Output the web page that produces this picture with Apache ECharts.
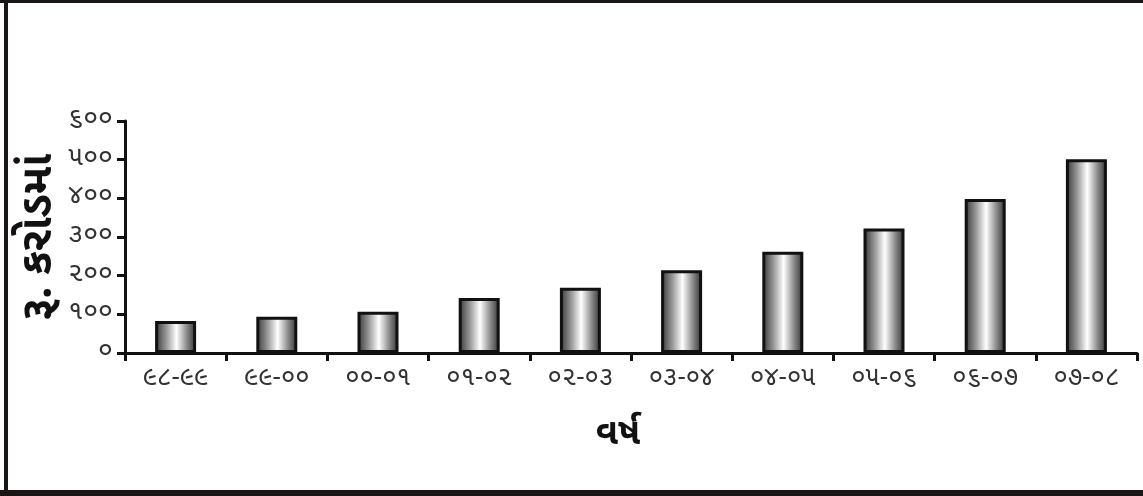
<!DOCTYPE html>
<html><head><meta charset="utf-8">
<script src="https://cdn.jsdelivr.net/npm/echarts@6/dist/echarts.min.js"></script>
<style>html,body{margin:0;padding:0;background:#fff}#c{width:1143px;height:496px}</style>
</head><body><div id="c"></div>
<script>
const categories = ['૯૮-૯૯','૯૯-૦૦','૦૦-૦૧','૦૧-૦૨','૦૨-૦૩','૦૩-૦૪','૦૪-૦૫','૦૫-૦૬','૦૬-૦૭','૦૭-૦૮'];
const values = [83, 94, 107, 142, 169, 214, 262, 322, 398, 501];
const yTickLabels = ['૦','૧૦૦','૨૦૦','૩૦૦','૪૦૦','૫૦૦','૬૦૦'];
const yTitle = 'રૂ. કરોડમાં';
const xTitle = 'વર્ષ';

const font = "'Noto Sans Gujarati','Lohit Gujarati','Noto Sans','DejaVu Sans',sans-serif";
const chart = echarts.init(document.getElementById('c'), null, {renderer:'canvas'});
chart.setOption({
  backgroundColor:'#fff',
  animation:false,
  grid:{left:125, right:6, top:121, bottom:143, containLabel:false},
  xAxis:{
    type:'category', data:categories,
    axisLine:{lineStyle:{color:'#111', width:3}},
    axisTick:{show:true, alignWithLabel:false, length:8, lineStyle:{color:'#111', width:3}},
    axisLabel:{color:'#333', fontSize:26, fontFamily:font, margin:14},
    name:xTitle, nameLocation:'middle', nameGap:66, nameMoveOverlap:false,
    nameTextStyle:{color:'#111', fontSize:36, fontWeight:'bold', fontFamily:font, padding:[0,26,0,0]}
  },
  yAxis:{
    type:'value', min:0, max:600, interval:100,
    axisLine:{show:true, lineStyle:{color:'#111', width:3}},
    axisTick:{show:true, length:8, lineStyle:{color:'#111', width:3}},
    splitLine:{show:false},
    axisLabel:{color:'#333', fontSize:27, fontFamily:font, margin:12,
      formatter:function(v){return yTickLabels[Math.round(v/100)];}},
    name:yTitle, nameLocation:'middle', nameGap:60, nameRotate:90, nameMoveOverlap:false,
    nameTextStyle:{color:'#111', fontSize:44, fontWeight:'bold', fontFamily:font}
  },
  series:[{
    type:'bar', data:values, barWidth:41,
    itemStyle:{
      borderColor:'#111', borderWidth:3,
      color:new echarts.graphic.LinearGradient(0,0,1,0,[
        {offset:0, color:'#333333'},
        {offset:0.28, color:'#9a9a9a'},
        {offset:0.52, color:'#ffffff'},
        {offset:0.78, color:'#888888'},
        {offset:1, color:'#2e2e2e'}
      ])
    }
  }],
  graphic:[
    {type:'rect', shape:{x:0,y:0,width:1143,height:3}, style:{fill:'#1a1616'}, silent:true},
    {type:'rect', shape:{x:4,y:0,width:4,height:496}, style:{fill:'#1a1616'}, silent:true},
    {type:'rect', shape:{x:0,y:490,width:1143,height:6}, style:{fill:'#1a1616'}, silent:true}
  ]
});
</script></body></html>
